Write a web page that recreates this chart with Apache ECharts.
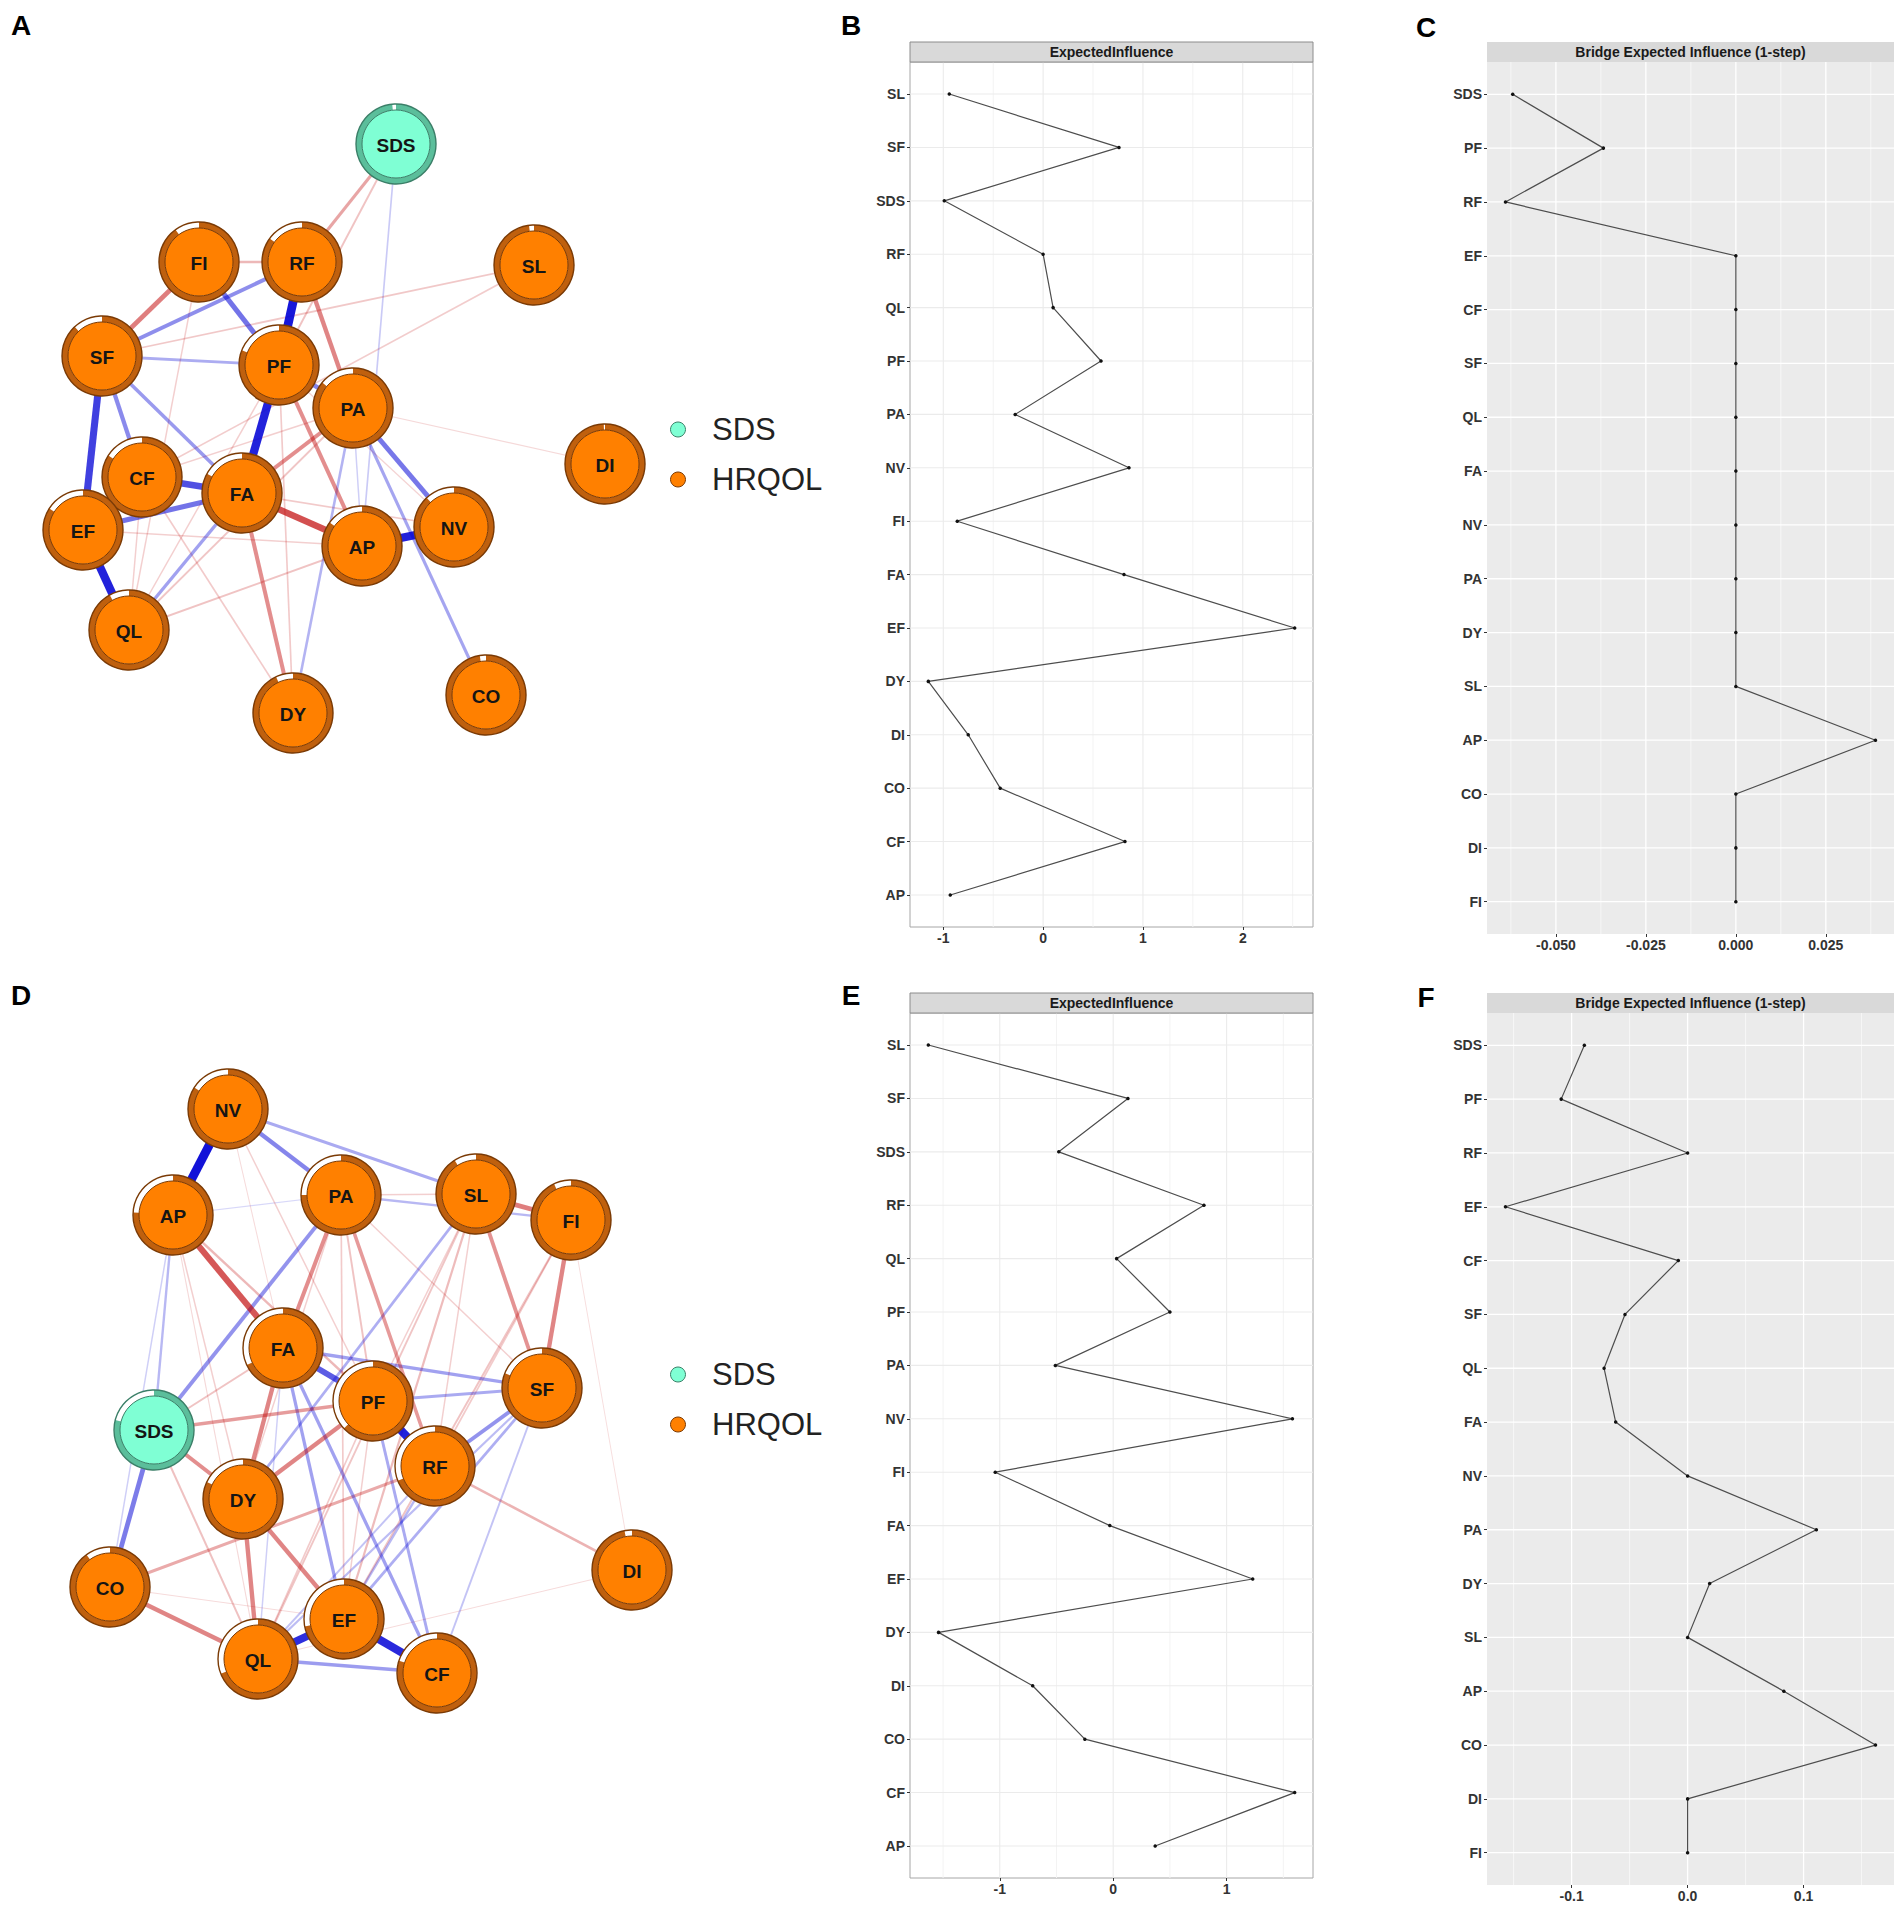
<!DOCTYPE html>
<html>
<head>
<meta charset="utf-8">
<script src="https://cdn.jsdelivr.net/npm/echarts@6/dist/echarts.min.js"></script>
<style>
html,body{margin:0;padding:0;background:#ffffff;}
#chart{width:1901px;height:1907px;}
</style>
</head>
<body>
<div id="chart"></div>
<script>
const FONT = '"Liberation Sans", Arial, Helvetica, sans-serif';
const BRIDGE = 'SDS';

// ---------- Panel A : network ----------
const nodesA   = ['SDS','FI','RF','SL','SF','PF','PA','CF','FA','EF','AP','NV','QL','DY','CO','DI'];
const layoutAx = [396,199,302,534,102,279,353,142,242,83,362,454,129,293,486,605];
const layoutAy = [144,262,262,265,356,365,408,477,493,530,546,527,630,713,695,464];
const predA    = [0.985,0.90,0.85,0.98,0.88,0.81,0.86,0.84,0.83,0.84,0.85,0.88,0.92,0.93,0.975,0.995];
const edgesA = [
  ['SDS','RF',-0.28],['SDS','PF',-0.15],['SDS','AP',0.12],
  ['FI','RF',-0.20],['FI','SF',-0.45],['FI','PF',0.50],['FI','QL',-0.10],
  ['RF','SF',0.38],['RF','PF',0.90],['RF','PA',-0.42],
  ['SL','SF',-0.13],['SL','CF',-0.11],
  ['SF','PF',0.25],['SF','EF',0.72],['SF','CF',0.40],['SF','FA',0.33],
  ['PF','FA',0.85],['PF','PA',0.42],['PF','AP',-0.38],['PF','DY',-0.12],['PF','QL',-0.10],['PF','NV',-0.08],
  ['PA','FA',-0.38],['PA','NV',0.48],['PA','DI',-0.06],['PA','DY',0.22],['PA','CO',0.28],['PA','AP',0.10],['PA','QL',-0.14],
  ['CF','FA',0.65],['EF','FA',0.50],['EF','QL',0.85],['CF','DY',-0.12],['CF','QL',-0.10],['CF','PA',-0.10],
  ['FA','AP',-0.65],['FA','DY',-0.38],['FA','QL',0.30],['FA','NV',-0.12],
  ['AP','NV',0.85],['AP','QL',-0.15],['EF','AP',-0.10]
];

// ---------- Panel D : network ----------
const nodesD   = ['NV','AP','PA','SL','FI','FA','SF','PF','SDS','RF','DY','DI','CO','EF','QL','CF'];
const layoutDx = [228,173,341,476,571,283,542,373,154,435,243,632,110,344,258,437];
const layoutDy = [159,265,245,244,270,398,438,451,480,516,549,620,637,669,709,723];
const predD    = [0.84,0.76,0.75,0.91,0.93,0.68,0.81,0.63,0.79,0.69,0.82,0.97,0.90,0.72,0.69,0.80];
const edgesD = [
  ['NV','AP',0.92],['NV','PA',0.42],['NV','SL',0.26],['NV','PF',-0.10],['NV','FA',-0.05],
  ['PA','SL',-0.10],['PA','FI',0.20],['SL','FI',-0.45],
  ['AP','FA',-0.62],['AP','PF',-0.20],['AP','SDS',0.20],['AP','CO',0.10],['AP','PA',0.06],['AP','DY',-0.10],['AP','QL',-0.06],
  ['PA','SDS',0.36],['PA','FA',-0.38],['PA','PF',-0.15],['PA','RF',-0.33],['PA','EF',-0.12],['PA','SF',-0.10],['PA','DY',-0.10],
  ['SL','DY',0.24],['SL','SF',-0.36],['SL','EF',-0.18],['SL','QL',-0.14],['SL','RF',-0.10],['SL','PF',-0.10],
  ['FI','SF',-0.42],['FI','DI',-0.04],['FI','EF',-0.15],['FI','RF',-0.12],
  ['FA','PF',0.60],['FA','SF',0.30],['FA','DY',-0.42],['FA','EF',0.30],['FA','CF',0.30],['FA','SDS',-0.15],['FA','QL',0.10],
  ['PF','SF',0.26],['PF','RF',0.85],['PF','SDS',-0.32],['PF','DY',-0.42],['PF','CF',0.26],['PF','QL',-0.12],['PF','EF',-0.10],
  ['SDS','DY',-0.38],['SDS','CO',0.46],['SDS','QL',-0.16],
  ['RF','SF',0.36],['RF','CO',-0.26],['RF','DI',-0.22],['RF','EF',0.20],['RF','QL',0.15],
  ['EF','SF',0.24],['SF','CF',0.15],['SF','QL',0.18],
  ['DY','EF',-0.42],['DY','QL',-0.42],['CO','QL',-0.42],['CO','EF',-0.05],
  ['EF','QL',0.80],['EF','CF',0.82],['QL','CF',0.32],['DI','QL',-0.05]
];

// ---------- Panels B / E : Expected influence ----------
const catsEI = ['SL','SF','SDS','RF','QL','PF','PA','NV','FI','FA','EF','DY','DI','CO','CF','AP'];
const valsB  = [-0.94,0.76,-0.99,0.00,0.10,0.58,-0.28,0.86,-0.86,0.81,2.52,-1.15,-0.75,-0.43,0.82,-0.93];
const valsE  = [-1.63,0.13,-0.48,0.80,0.03,0.50,-0.51,1.58,-1.04,-0.03,1.23,-1.54,-0.71,-0.25,1.60,0.37];
const ticksB = [-1,0,1,2];       const minorB = [-0.5,0.5,1.5,2.5];
const ticksE = [-1,0,1];         const minorE = [-1.5,-0.5,0.5,1.5];

// ---------- Panels C / F : Bridge expected influence ----------
const catsBEI = ['SDS','PF','RF','EF','CF','SF','QL','FA','NV','PA','DY','SL','AP','CO','DI','FI'];
const valsC   = [-0.0620,-0.0368,-0.0640,0,0,0,0,0,0,0,0,0,0.0388,0,0,0];
const valsF   = [-0.089,-0.109,0.000,-0.157,-0.008,-0.054,-0.072,-0.062,0.000,0.111,0.019,0.000,0.083,0.162,0.000,0.000];
const ticksC  = [-0.05,-0.025,0,0.025];  const minorC = [-0.0625,-0.0375,-0.0125,0.0125,0.0375];
const ticksF  = [-0.1,0,0.1];            const minorF = [-0.15,-0.05,0.05,0.15];

// ================= styling / building =================
const COL = {
  SDS:   {fill:'#7FFFD4', ring:'#5BBE9B', edge:'#3B7F68'},
  HRQOL: {fill:'#FF8000', ring:'#BF600E', edge:'#7A3A05'}
};
const R_OUT = 40, R_IN = 34;

const option = {
  animation:false,
  backgroundColor:'#ffffff',
  grid:[], xAxis:[], yAxis:[], series:[], legend:[], graphic:[]
};

function edgeStyle(w){
  const a = Math.abs(w);
  const alpha = Math.min(1, 0.1 + 0.9*a);
  return {
    stroke: w > 0 ? 'rgba(0,0,213,' + alpha.toFixed(3) + ')' : 'rgba(191,0,0,' + alpha.toFixed(3) + ')',
    lineWidth: 0.6 + 9*a
  };
}

function addNetwork(net){
  const g = option.grid.length;
  option.grid.push({left:net.left, top:net.top, width:net.w, height:net.h, show:false});
  option.xAxis.push({type:'value', gridIndex:g, min:0, max:net.w, show:false});
  option.yAxis.push({type:'value', gridIndex:g, min:0, max:net.h, inverse:true, show:false});
  const xi = option.xAxis.length-1, yi = option.yAxis.length-1;
  const edata = net.edges.slice().sort((a,b)=>Math.abs(a[2])-Math.abs(b[2])).map(e=>{
    const i = net.names.indexOf(e[0]), j = net.names.indexOf(e[1]);
    return [net.x[i], net.y[i], net.x[j], net.y[j], e[2]];
  });
  option.series.push({
    type:'custom', name:'edges'+g, coordinateSystem:'cartesian2d', xAxisIndex:xi, yAxisIndex:yi,
    z:2, silent:true, data:edata, encode:{x:[0,2], y:[1,3]},
    renderItem:(params, api)=>{
      const p1 = api.coord([api.value(0), api.value(1)]);
      const p2 = api.coord([api.value(2), api.value(3)]);
      const s = edgeStyle(api.value(4));
      return {type:'line', shape:{x1:p1[0], y1:p1[1], x2:p2[0], y2:p2[1]},
              style:{stroke:s.stroke, lineWidth:s.lineWidth, fill:null}};
    }
  });
  ['SDS','HRQOL'].forEach(group=>{
    const idx = net.names.map((n,i)=>i).filter(i => (net.names[i]===BRIDGE) === (group==='SDS'));
    const labels = idx.map(i=>net.names[i]);
    const C = COL[group];
    option.series.push({
      type:'custom', name:group, coordinateSystem:'cartesian2d', xAxisIndex:xi, yAxisIndex:yi,
      z:5, silent:true, itemStyle:{color:C.fill, borderColor:C.edge},
      data: idx.map(i=>[net.x[i], net.y[i], net.pred[i]]), encode:{x:0, y:1},
      renderItem:(params, api)=>{
        const c = api.coord([api.value(0), api.value(1)]);
        const p = api.value(2);
        const a0 = -Math.PI/2, a1 = a0 + 2*Math.PI*p;
        return {type:'group', children:[
          {type:'circle', shape:{cx:c[0], cy:c[1], r:R_OUT}, style:{fill:'#ffffff'}},
          {type:'sector', shape:{cx:c[0], cy:c[1], r0:R_IN, r:R_OUT, startAngle:a0, endAngle:a1, clockwise:true}, style:{fill:C.ring}},
          {type:'circle', shape:{cx:c[0], cy:c[1], r:R_IN}, style:{fill:C.fill, stroke:C.edge, lineWidth:1}},
          {type:'circle', shape:{cx:c[0], cy:c[1], r:R_OUT}, style:{fill:'none', stroke:C.edge, lineWidth:1.4}},
          {type:'text', style:{text:labels[params.dataIndex], x:c[0], y:c[1]+1,
             align:'center', verticalAlign:'middle', textAlign:'center', textVerticalAlign:'middle',
             font:'bold 19px ' + FONT, fill:'#151515'}}
        ]};
      }
    });
  });
  option.legend.push({
    orient:'vertical', left:665, top:net.legendTop, itemWidth:58, itemHeight:15, itemGap:19,
    icon:'circle', selectedMode:false,
    textStyle:{fontSize:31, lineHeight:30, color:'#222222', fontFamily:FONT},
    data:[
      {name:'SDS', itemStyle:{color:COL.SDS.fill, borderColor:COL.SDS.edge, borderWidth:1}},
      {name:'HRQOL', itemStyle:{color:COL.HRQOL.fill, borderColor:COL.HRQOL.edge, borderWidth:1}}
    ]
  });
}

function fmt(v, dec){ return dec === 0 ? String(Math.round(v)) : v.toFixed(dec); }

function vLines(xi, yi, values, color, width){
  return {type:'custom', coordinateSystem:'cartesian2d', xAxisIndex:xi, yAxisIndex:yi, silent:true, z:1,
    data: values.map(v=>[v, 0]), encode:{x:0, y:1},
    renderItem:(params, api)=>{
      const cs = params.coordSys;
      const x = api.coord([api.value(0), 0])[0];
      return {type:'line', shape:{x1:x, y1:cs.y, x2:x, y2:cs.y + cs.height}, style:{stroke:color, lineWidth:width, fill:null}};
    }};
}
function hLines(xi, yi, n, xref, color, width){
  const idx = []; for (let i = 0; i < n; i++) idx.push([xref, i]);
  return {type:'custom', coordinateSystem:'cartesian2d', xAxisIndex:xi, yAxisIndex:yi, silent:true, z:1,
    data: idx, encode:{x:0, y:1},
    renderItem:(params, api)=>{
      const cs = params.coordSys;
      const y = api.coord([api.value(0), api.value(1)])[1];
      return {type:'line', shape:{x1:cs.x, y1:y, x2:cs.x + cs.width, y2:y}, style:{stroke:color, lineWidth:width, fill:null}};
    }};
}

function addPanel(p){
  const bw = p.theme === 'bw';
  const major = bw ? '#EBEBEB' : '#FFFFFF';
  const minor = bw ? '#F3F3F3' : '#FFFFFF';
  const gFull = option.grid.length;
  option.grid.push({left:p.left, top:p.top, width:p.width, height:p.height, show:true,
    backgroundColor: bw ? '#FFFFFF' : '#EBEBEB', borderColor: bw ? '#A6A6A6' : 'transparent', borderWidth: bw ? 1 : 0});
  const step = p.height / 16.2;
  const gIn = option.grid.length;
  option.grid.push({left:p.left, top:p.top + 0.6*step, width:p.width, height:15*step, show:false});
  const lo = Math.min(...p.vals), hi = Math.max(...p.vals), pad = 0.05*(hi-lo);
  const xmin = lo - pad, xmax = hi + pad;
  const labelStyle = {color:'#333333', fontWeight:'bold', fontSize:14, fontFamily:FONT};
  option.xAxis.push({type:'value', gridIndex:gFull, min:xmin, max:xmax, position:'bottom',
    axisLine:{show:false, onZero:false},
    axisTick:{show:true, length:3, customValues:p.ticks, lineStyle:{color:'#333333'}},
    axisLabel:Object.assign({customValues:p.ticks, margin:4, formatter:v=>fmt(v,p.dec)}, labelStyle),
    splitLine:{show:false}
  });
  const xFull = option.xAxis.length-1;
  option.xAxis.push({type:'value', gridIndex:gIn, min:xmin, max:xmax, show:false, splitLine:{show:false}});
  const xIn = option.xAxis.length-1;
  option.yAxis.push({type:'value', gridIndex:gFull, min:0, max:1, show:false, splitLine:{show:false}});
  const yFull = option.yAxis.length-1;
  option.yAxis.push({type:'category', gridIndex:gIn, data:p.cats, inverse:true, boundaryGap:false,
    axisLine:{show:false, onZero:false},
    axisTick:{show:true, length:3, interval:0, lineStyle:{color:'#333333'}},
    axisLabel:Object.assign({interval:0, margin:5}, labelStyle),
    splitLine:{show:false}
  });
  const yIn = option.yAxis.length-1;
  option.series.push(vLines(xFull, yFull, p.minors, minor, bw ? 1 : 0.6));
  option.series.push(vLines(xFull, yFull, p.ticks, major, bw ? 1.1 : 1.3));
  option.series.push(hLines(xIn, yIn, p.cats.length, xmin, major, bw ? 1.1 : 1.3));
  option.series.push({type:'line', xAxisIndex:xIn, yAxisIndex:yIn,
    data:p.vals.map((v,i)=>[v,i]), symbol:'circle', symbolSize:3.5, showSymbol:true, silent:true, z:3,
    itemStyle:{color:'#111111'}, lineStyle:{color:'#4D4D4D', width:1.2}});
  option.graphic.push({type:'rect', shape:{x:p.left, y:p.top-20, width:p.width, height:20}, z:10,
    style:{fill:'#D9D9D9', stroke: bw ? '#8C8C8C' : null, lineWidth: bw ? 1 : 0}});
  option.graphic.push({type:'text', x:p.left + p.width/2, y:p.top-10, z:11,
    style:{text:p.strip, font:'bold 14px ' + FONT, fill:'#1A1A1A', align:'center', verticalAlign:'middle',
           textAlign:'center', textVerticalAlign:'middle'}});
}

addNetwork({left:0, top:0, w:840, h:950, names:nodesA, x:layoutAx, y:layoutAy, pred:predA, edges:edgesA, legendTop:409});
addNetwork({left:0, top:950, w:840, h:957, names:nodesD, x:layoutDx, y:layoutDy, pred:predD, edges:edgesD, legendTop:1354});

addPanel({left:910, top:62, width:403, height:865, cats:catsEI, vals:valsB, ticks:ticksB, minors:minorB, dec:0, theme:'bw', strip:'ExpectedInfluence'});
addPanel({left:1487, top:62, width:407, height:872, cats:catsBEI, vals:valsC, ticks:ticksC, minors:minorC, dec:3, theme:'gray', strip:'Bridge Expected Influence (1-step)'});
addPanel({left:910, top:1013, width:403, height:865, cats:catsEI, vals:valsE, ticks:ticksE, minors:minorE, dec:0, theme:'bw', strip:'ExpectedInfluence'});
addPanel({left:1487, top:1013, width:407, height:872, cats:catsBEI, vals:valsF, ticks:ticksF, minors:minorF, dec:1, theme:'gray', strip:'Bridge Expected Influence (1-step)'});

// panel letters
[['A',21,25],['B',851,25],['C',1426,27],['D',21,995],['E',851,995],['F',1426,997]].forEach(t=>{
  option.graphic.push({type:'text', x:t[1], y:t[2], z:12,
    style:{text:t[0], font:'bold 28px ' + FONT, fill:'#000000', align:'center', verticalAlign:'middle',
           textAlign:'center', textVerticalAlign:'middle'}});
});

const chart = echarts.init(document.getElementById('chart'), null, {renderer:'svg'});
chart.setOption(option);
</script>
</body>
</html>
